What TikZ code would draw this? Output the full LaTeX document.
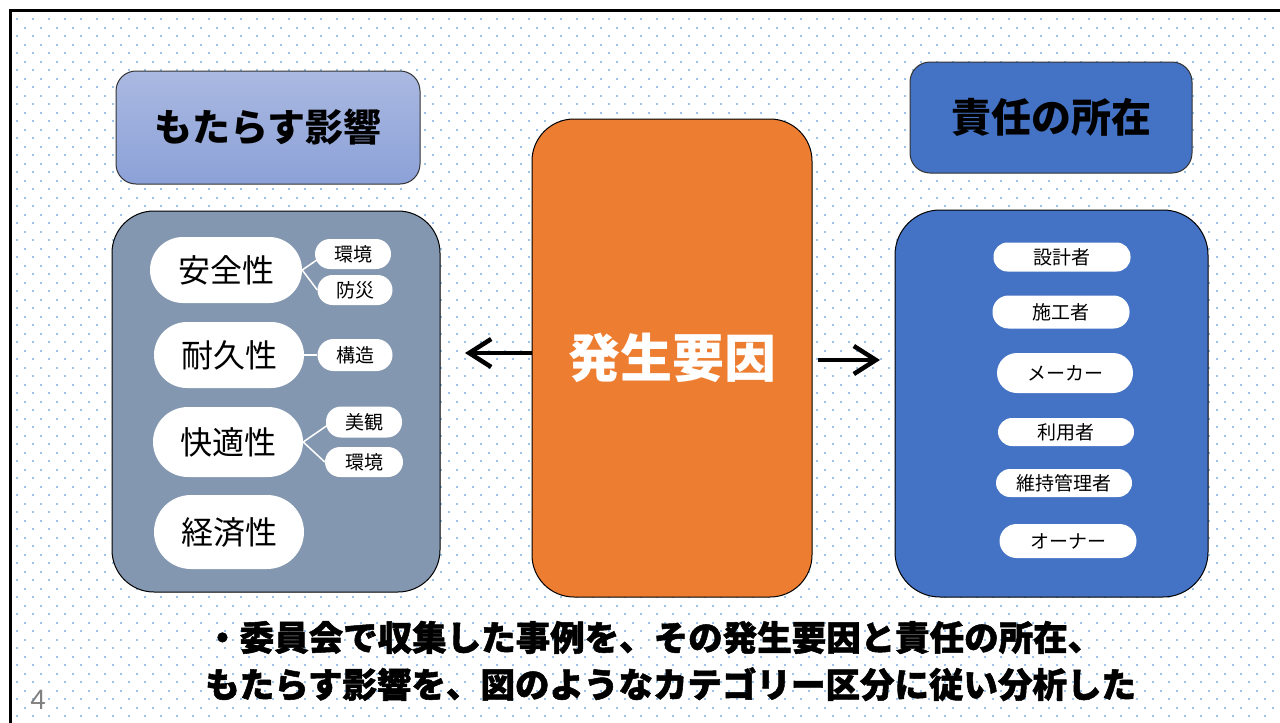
\documentclass[tikz,border=0pt]{standalone}
\usepackage{fontspec}
\newfontfamily\jp{Noto Sans CJK JP}
\newfontfamily\jpheavy{Noto Sans CJK JP}[BoldFeatures={FakeBold=1.5}]
\newfontfamily\numfont{Carlito}
\usetikzlibrary{arrows.meta,calc}
\definecolor{dotc}{RGB}{157,195,230}
\definecolor{hdrtop}{RGB}{170,185,225}
\definecolor{hdrbot}{RGB}{140,161,216}
\definecolor{lpanel}{RGB}{132,151,176}
\definecolor{rblue}{RGB}{68,114,196}
\definecolor{orng}{RGB}{237,125,49}
\definecolor{pnum}{RGB}{128,128,128}
\tikzset{
  panel/.style={draw=black, line width=1pt, inner sep=0pt},
  pill/.style={fill=white, inner sep=0pt, rounded corners=#1},
  big/.style={font=\jp\fontsize{32}{38}\selectfont},
  small/.style={font=\jp\fontsize{19}{23}\selectfont},
  conn/.style={draw=white, line width=1.5pt},
  bigarr/.style={draw=black, line width=4.5pt, -{Straight Barb[length=22pt,width=28pt,line width=4.5pt]}},
}
\begin{document}
\begin{tikzpicture}[x=1pt,y=-1pt]
\useasboundingbox (0,0) rectangle (1280,723);
\fill[white] (0,0) rectangle (1280,723);
% dot background
\foreach \i in {0,...,82}{
  \pgfmathsetmacro{\yy}{18+8.5*\i}
  \pgfmathsetmacro{\xo}{mod(\i,2)==0 ? 16 : 24}
  \foreach \xx in {0,16,...,1264}{
    \fill[dotc] (\xo+\xx,\yy) rectangle ++(2,2);
  }
}
% frame
\draw[line width=3pt] (1280,10) -- (10,10) -- (10,723);

% headers
\node[panel, draw=black!80, rounded corners=20, top color=hdrtop, bottom color=hdrbot,
      minimum width=304, minimum height=113, font=\jp\bfseries\fontsize{38}{44}\selectfont]
      (hl) at (268,127.5) {もたらす影響};
\node[panel, draw=black!80, fill=rblue, rounded corners=20,
      minimum width=282, minimum height=111, font=\jp\bfseries\fontsize{40}{46}\selectfont]
      (hr) at (1051,117.5) {責任の所在};

% panels
\node[panel, fill=lpanel, rounded corners=42, minimum width=328, minimum height=381] (lp) at (276,401.5) {};
\node[panel, fill=rblue, rounded corners=45, minimum width=313, minimum height=387] (rp) at (1051.5,403.5) {};
\node[panel, fill=orng, rounded corners=42, minimum width=280, minimum height=478,
      text=white, font=\jp\bfseries\fontsize{52}{60}\selectfont] (hs) at (672,358) {発生要因};

% left pills
\node[pill=33, big, minimum width=152, minimum height=66] (anzen) at (226,270) {安全性};
\node[pill=33, big, minimum width=150, minimum height=66] (taikyu) at (229,355) {耐久性};
\node[pill=35, big, minimum width=150, minimum height=70] (kaiteki) at (228,442) {快適性};
\node[pill=37, big, minimum width=150, minimum height=74] (keizai) at (229,532) {経済性};
\node[pill=15, small, minimum width=76, minimum height=30] (kk1) at (353,254) {環境};
\node[pill=15, small, minimum width=75, minimum height=30] (bousai) at (355,290) {防災};
\node[pill=16, small, minimum width=75, minimum height=32] (kouzou) at (355,355) {構造};
\node[pill=15, small, minimum width=76, minimum height=31] (bikan) at (364,422) {美観};
\node[pill=15, small, minimum width=78, minimum height=30] (kk2) at (364,462) {環境};

\draw[conn] (anzen.east) -- ($(kk1.west)+(2,6)$);
\draw[conn] (anzen.east) -- (bousai.west);
\draw[conn] (taikyu.east) -- (kouzou.west);
\draw[conn] (kaiteki.east) -- ($(bikan.west)+(2,3)$);
\draw[conn] (kaiteki.east) -- (kk2.west);

% right pills
\node[pill=14, small, minimum width=137, minimum height=29] (sekkei) at (1062,257) {設計者};
\node[pill=16, small, minimum width=137, minimum height=33] (seko) at (1061,312) {施工者};
\node[pill=20, small, minimum width=136, minimum height=40] (maker) at (1065,373) {メーカー};
\node[pill=14, small, minimum width=136, minimum height=28] (riyo) at (1066,432) {利用者};
\node[pill=14, small, minimum width=136, minimum height=28] (iji) at (1064,483) {維持管理者};
\node[pill=17, small, minimum width=137, minimum height=34] (owner) at (1068,541) {オーナー};

% arrows
\coordinate (la) at (465,353);
\coordinate (ra) at (880,360);
\draw[bigarr] ($(hs.west)+(0,-5)$) -- (la);
\draw[bigarr] ($(hs.east)+(5,2)$) -- (ra);

% bottom text
\node[anchor=west, align=left, inner sep=0pt, font=\jpheavy\bfseries\fontsize{34.5}{47}\selectfont] (note) at (205,661)
  {・委員会で収集した事例を、その発生要因と責任の所在、\\もたらす影響を、図のようなカテゴリー区分に従い分析した};

\node[text=pnum, font=\numfont\fontsize{30}{34}\selectfont, inner sep=0pt] (pg) at (38,700) {4};
\end{tikzpicture}
\end{document}
